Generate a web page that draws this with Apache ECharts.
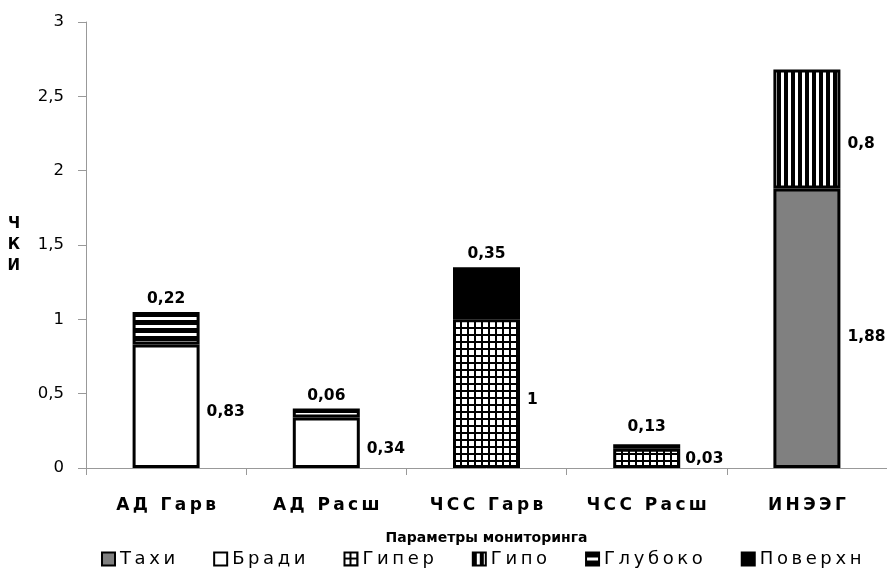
<!DOCTYPE html>
<html>
<head>
<meta charset="utf-8">
<script src="https://cdn.jsdelivr.net/npm/echarts@6/dist/echarts.min.js"></script>
<style>html,body{margin:0;padding:0;background:#fff}#c{width:887px;height:574px}</style>
</head>
<body>
<div id="c"></div>
<script>
const categories = ['АД Гарв', 'АД Расш', 'ЧСС Гарв', 'ЧСС Расш', 'ИНЭЭГ'];
const seriesNames = ['Тахи', 'Бради', 'Гипер', 'Гипо', 'Глубоко', 'Поверхн'];
const tahi    = [null, null, null, null, 1.88];
const bradi   = [0.83, 0.34, null, null, null];
const giper   = [null, null, 1, 0.13, null];
const gipo    = [null, null, null, null, 0.8];
const gluboko = [0.22, 0.06, null, 0.03, null];
const poverhn = [null, null, 0.35, null, null];
const yTicks = [0, 0.5, 1, 1.5, 2, 2.5, 3];

function pattern(draw, w, h) {
  const c = document.createElement('canvas');
  c.width = w; c.height = h;
  const g = c.getContext('2d');
  g.fillStyle = '#fff'; g.fillRect(0, 0, w, h);
  g.fillStyle = '#000';
  draw(g, w, h);
  return { image: c, repeat: 'repeat' };
}
const hStripes = pattern((g, w, h) => { g.fillRect(0, 0, w, 5); }, 8, 8);
const vStripes = pattern((g, w, h) => { g.fillRect(0, 0, 4, h); }, 7, 7);
const gridPat = pattern((g, w, h) => { g.fillRect(w - 2, 0, 2, h); g.fillRect(0, h - 2, w, 2); }, 7, 7);

const fmt = v => String(v).replace('.', ',');
const spaced = s => s.split('').join('\u2009');
const font = 'DejaVu Sans';

function mk(name, arr, fill, pos, offset, overrides) {
  return {
    name: name,
    type: 'bar',
    stack: 'all',
    barWidth: 67,
    data: arr.map((v, i) => {
      if (v === null) return '-';
      if (overrides && overrides[i]) return { value: v, label: overrides[i] };
      return v;
    }),
    itemStyle: { color: fill, borderColor: '#000', borderWidth: 3 },
    label: {
      show: true, position: pos, offset: offset, distance: pos === 'right' ? 7 : 5,
      formatter: p => fmt(p.value),
      fontFamily: font, fontWeight: 'bold', fontSize: 15.5, color: '#000'
    },
    emphasis: { disabled: true }
  };
}

const chart = echarts.init(document.getElementById('c'));
chart.setOption({
  animation: false,
  backgroundColor: '#fff',
  grid: { left: 86, right: 0, top: 22, bottom: 106, containLabel: false },
  legend: {
    top: 545, left: 96, itemWidth: 13, itemHeight: 13, itemGap: 38,
    icon: 'rect',
    textStyle: { fontFamily: font, fontSize: 18, color: '#000' },
    formatter: n => spaced(n),
    data: seriesNames
  },
  xAxis: {
    type: 'category', data: categories,
    name: 'Параметры мониторинга', nameLocation: 'middle', nameGap: 63,
    nameTextStyle: { fontFamily: font, fontWeight: 'bold', fontSize: 14, color: '#000' },
    axisLine: { lineStyle: { color: '#999', width: 1 } },
    axisTick: { show: true, length: 7, lineStyle: { color: '#999' } },
    axisLabel: { margin: 29, fontFamily: font, fontWeight: 'bold', fontSize: 17, color: '#000', formatter: v => spaced(v) }
  },
  yAxis: {
    type: 'value', min: 0, max: 3, interval: 0.5,
    name: 'Ч\nК\nИ', nameLocation: 'middle', nameRotate: 0, nameGap: 66,
    nameTextStyle: { fontFamily: font, fontWeight: 'bold', fontSize: 15, color: '#000', lineHeight: 21,
      verticalAlign: 'middle', padding: [14, 0, 0, 0], backgroundColor: 'rgba(255,255,255,0)' },
    axisLine: { show: true, lineStyle: { color: '#999', width: 1 } },
    axisTick: { show: true, inside: false, length: 8, lineStyle: { color: '#999' } },
    splitLine: { show: false },
    axisLabel: { margin: 22, fontFamily: font, fontSize: 16.5, color: '#000',
      formatter: v => yTicks.indexOf(v) >= 0 ? fmt(v) : '' }
  },
  series: [
    mk('Тахи', tahi, '#808080', 'right', [0, 9]),
    mk('Бради', bradi, '#fff', 'right', [0, 6]),
    mk('Гипер', giper, gridPat, 'right', [0, 6], { 3: { position: 'top', offset: [0, -7] } }),
    mk('Гипо', gipo, vStripes, 'right', [0, 15]),
    mk('Глубоко', gluboko, hStripes, 'top', [0, 0], { 3: { position: 'right', offset: [0, 13] } }),
    mk('Поверхн', poverhn, '#000', 'top', [0, 0])
  ]
});
</script>
</body>
</html>
